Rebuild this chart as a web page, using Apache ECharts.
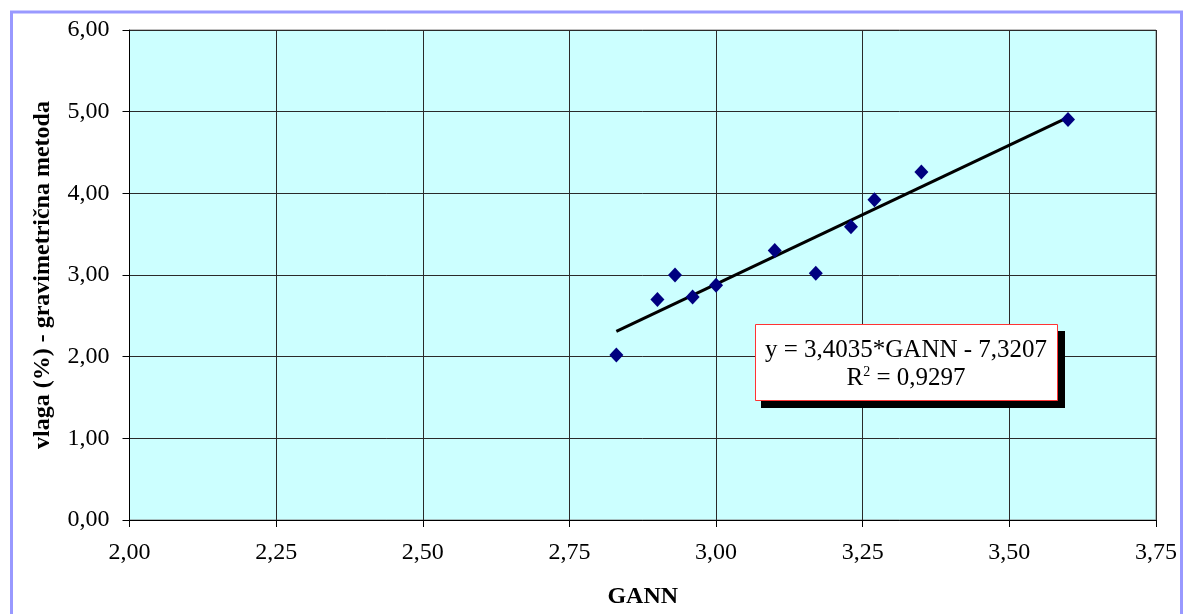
<!DOCTYPE html>
<html>
<head>
<meta charset="utf-8">
<script src="https://cdn.jsdelivr.net/npm/echarts@6/dist/echarts.min.js"></script>
<style>
html,body{margin:0;padding:0;background:#fff;}
#chart{width:1187px;height:614px;}
</style>
</head>
<body>
<div id="chart"></div>
<script>
// Measured points: GANN vs moisture (%)
const gannValues = [2.83, 2.90, 2.93, 2.96, 3.00, 3.10, 3.17, 3.23, 3.27, 3.35, 3.60];
const moistureValues = [2.02, 2.70, 3.00, 2.73, 2.875, 3.30, 3.02, 3.59, 3.92, 4.26, 4.905];
// Trend line endpoints
const trendX = [2.83, 3.60];
const trendY = [2.31, 4.93];
const equationText = 'y = 3,4035*GANN - 7,3207';
const r2Text = '0,9297';
const xTitle = 'GANN';
const yTitle = 'vlaga (%) - gravimetrična metoda';

const points = gannValues.map((x, i) => [x, moistureValues[i]]);
const trend = trendX.map((x, i) => [x, trendY[i]]);
const fmt = v => v.toFixed(2).replace('.', ',');
const FONT = '"Liberation Serif", "Times New Roman", serif';

const chart = echarts.init(document.getElementById('chart'));
chart.setOption({
  animation: false,
  backgroundColor: '#ffffff',
  grid: {
    left: 129.5, top: 30, right: 31, bottom: 90.5,
    show: true, backgroundColor: '#ccffff', borderColor: '#808080', borderWidth: 1
  },
  xAxis: {
    type: 'value', min: 2, max: 3.75, interval: 0.25,
    name: xTitle, nameLocation: 'middle', nameGap: 65,
    nameTextStyle: { fontFamily: FONT, fontSize: 24, fontWeight: 'bold', color: '#000' },
    axisLine: { show: true, onZero: false, lineStyle: { color: '#000', width: 1 } },
    axisTick: { show: true, length: 7, lineStyle: { color: '#000' } },
    axisLabel: { formatter: fmt, fontFamily: FONT, fontSize: 24, color: '#000', margin: 21 },
    splitLine: { show: true, lineStyle: { color: '#2a2a2a', width: 1 } }
  },
  yAxis: {
    type: 'value', min: 0, max: 6, interval: 1,
    name: yTitle, nameLocation: 'middle', nameGap: 75,
    nameTextStyle: { fontFamily: FONT, fontSize: 24, fontWeight: 'bold', color: '#000' },
    axisLine: { show: true, onZero: false, lineStyle: { color: '#000', width: 1 } },
    axisTick: { show: true, length: 7, lineStyle: { color: '#000' } },
    axisLabel: { formatter: fmt, fontFamily: FONT, fontSize: 24, color: '#000', margin: 20 },
    splitLine: { show: true, lineStyle: { color: '#2a2a2a', width: 1 } }
  },
  series: [
    {
      type: 'line', data: trend, symbol: 'none', silent: true,
      lineStyle: { color: '#000', width: 3 }, z: 3
    },
    {
      type: 'scatter', data: points, symbol: 'diamond', symbolSize: [14, 15],
      itemStyle: { color: '#000080', opacity: 1 }, z: 4
    }
  ],
  graphic: [
    {
      type: 'rect', left: 9, top: 9.5, z: 0, silent: true,
      shape: { width: 1170, height: 700 },
      style: { fill: 'none', stroke: '#9999ff', lineWidth: 3 }
    },
    {
      type: 'rect', z: 10, silent: true, x: 761, y: 331,
      shape: { width: 304, height: 77 },
      style: { fill: '#000' }
    },
    {
      type: 'rect', z: 11, silent: true, x: 755.5, y: 324.5,
      shape: { width: 302, height: 76 },
      style: { fill: '#fff', stroke: '#ff3333', lineWidth: 1 }
    },
    {
      type: 'text', z: 12, silent: true, x: 906, y: 350,
      style: { text: equationText, font: '25px ' + FONT, fill: '#000', align: 'center', verticalAlign: 'middle' }
    },
    {
      type: 'text', z: 12, silent: true, x: 906, y: 378,
      style: {
        text: '{n|R}{s|2}{n| = ' + r2Text + '}',
        align: 'center', verticalAlign: 'middle',
        rich: {
          n: { fontFamily: FONT, fontSize: 25, fill: '#000', verticalAlign: 'bottom' },
          s: { fontFamily: FONT, fontSize: 14, fill: '#000', verticalAlign: 'top', padding: [0, 0, 10, 0] }
        }
      }
    }
  ]
});
</script>
</body>
</html>
